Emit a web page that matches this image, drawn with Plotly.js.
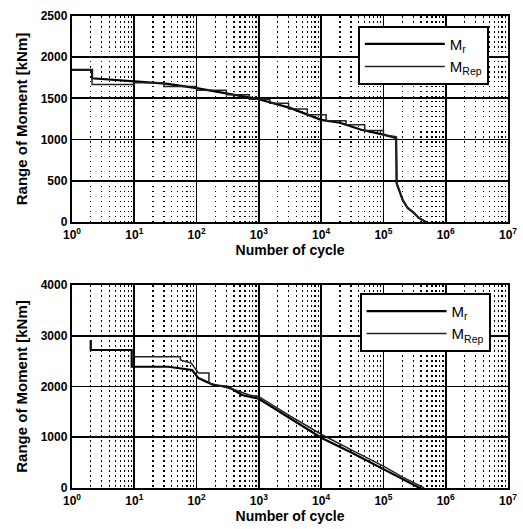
<!DOCTYPE html>
<html><head><meta charset="utf-8">
<script src="https://cdn.plot.ly/plotly-3.0.1.min.js"></script>
<style>html,body{margin:0;padding:0;background:#fff}</style>
</head><body><div id="chart" style="width:523px;height:529px"></div>
<script>
// ---- tick labels ----
const xTickVals = [1, 10, 100, 1000, 10000, 100000, 1000000, 10000000];
const xTickText = ['10<sup>0</sup>', '10<sup>1</sup>', '10<sup>2</sup>', '10<sup>3</sup>', '10<sup>4</sup>', '10<sup>5</sup>', '10<sup>6</sup>', '10<sup>7</sup>'];
const yTopTicks = [0, 500, 1000, 1500, 2000, 2500];
const yBotTicks = [0, 1000, 2000, 3000, 4000];
const seriesNames = ['M<sub>r</sub>', 'M<sub>Rep</sub>'];
const xTitle = 'Number of cycle';
const yTitle = 'Range of Moment [kNm]';

// ---- top panel ----
const topCyclesR = [1, 2.1, 2.1, 10, 32, 100, 316, 1000, 3162, 10000, 20000, 44000, 100000, 160000, 163000, 180000, 204000, 245000, 310000, 370000, 480000];
const topMomentR = [1845, 1845, 1744, 1705, 1680, 1625, 1560, 1490, 1385, 1240, 1205, 1120, 1060, 1020, 470, 388, 267, 170, 109, 49, 0];
const topCyclesRep = [1, 2.1, 2.1, 10, 10, 30, 30, 100, 100, 300, 300, 700, 700, 1500, 1500, 3000, 3000, 6000, 6000, 12000, 12000, 25000, 25000, 50000, 50000, 100000, 100000, 160000, 163000, 180000, 204000, 245000, 310000, 370000, 480000];
const topMomentRep = [1845, 1845, 1670, 1670, 1690, 1690, 1645, 1645, 1600, 1600, 1545, 1545, 1490, 1490, 1440, 1440, 1370, 1370, 1300, 1300, 1230, 1230, 1180, 1180, 1110, 1110, 1055, 1035, 470, 388, 267, 170, 109, 49, 0];

// ---- bottom panel ----
const botCyclesR = [2, 2, 9.1, 9.1, 35, 85, 107, 186, 324, 537, 1000, 3162, 10000, 31623, 100000, 200000, 355000, 400000];
const botMomentR = [2916, 2720, 2720, 2390, 2390, 2325, 2167, 2030, 1996, 1833, 1760, 1380, 990, 690, 380, 180, 20, 0];
const botCyclesRep = [9.1, 55, 55, 82, 107, 158, 158, 214, 335, 417, 700, 1000, 3162, 10000, 31623, 100000, 200000, 400000, 450000];
const botMomentRep = [2588, 2588, 2522, 2463, 2266, 2266, 2069, 2030, 1970, 1931, 1833, 1800, 1420, 1060, 740, 430, 220, 20, 0];

const FONT = 'Liberation Sans, Arial, sans-serif';

const minorVals = [];
for (let d = 0; d < 7; d++) for (let k = 2; k <= 9; k++) minorVals.push(k * Math.pow(10, d));

function xAxis(anchor) {
  return {
    type: 'log', range: [0, 7], anchor: anchor, automargin: false,
    tickmode: 'array', tickvals: xTickVals, ticktext: xTickText,
    tickfont: {family: FONT, size: 12, color: 'black', weight: 'bold'},
    showgrid: true, gridcolor: 'black', gridwidth: 1.8,
    showline: true, mirror: true, linecolor: 'black', linewidth: 2.2,
    ticks: '', zeroline: false,
    minor: {tickmode: 'array', tickvals: minorVals, showgrid: true, gridcolor: 'black', gridwidth: 1.3, griddash: '1.5px,3.5px', ticks: ''},
    title: {text: xTitle, font: {family: FONT, size: 14, color: 'black', weight: 'bold'}, standoff: 3}
  };
}
function yAxis(anchor, domain, ticks, top) {
  return {
    domain: domain, anchor: anchor, range: [0, top], automargin: false,
    tickmode: 'array', tickvals: ticks,
    tickfont: {family: FONT, size: 12, color: 'black', weight: 'bold'},
    showgrid: true, gridcolor: 'black', gridwidth: 1.8,
    showline: true, mirror: true, linecolor: 'black', linewidth: 2.2,
    ticks: '', zeroline: false,
    title: {text: yTitle, font: {family: FONT, size: 15, color: 'black', weight: 'bold'}, standoff: 10}
  };
}

const traces = [
  {x: topCyclesR, y: topMomentR, xaxis: 'x', yaxis: 'y', mode: 'lines', name: seriesNames[0], line: {color: 'black', width: 2.2}, legend: 'legend'},
  {x: topCyclesRep, y: topMomentRep, xaxis: 'x', yaxis: 'y', mode: 'lines', name: seriesNames[1], line: {color: '#222', width: 1.5}, legend: 'legend'},
  {x: botCyclesR, y: botMomentR, xaxis: 'x2', yaxis: 'y2', mode: 'lines', name: seriesNames[0], line: {color: 'black', width: 2.2}, legend: 'legend2'},
  {x: botCyclesRep, y: botMomentRep, xaxis: 'x2', yaxis: 'y2', mode: 'lines', name: seriesNames[1], line: {color: '#222', width: 1.5}, legend: 'legend2'}
];

function legendCfg(x, y) {
  return {x: x, y: y, xanchor: 'left', yanchor: 'top', bgcolor: 'white', bordercolor: 'black', borderwidth: 1.8,
    font: {family: FONT, size: 15, color: 'black'}, itemwidth: 80, tracegroupgap: 0};
}

const layout = {
  width: 523, height: 529,
  margin: {l: 72, r: 15, t: 16, b: 41},
  paper_bgcolor: 'white', plot_bgcolor: 'white',
  showlegend: true,
  xaxis: xAxis('y'),
  yaxis: yAxis('x', [0.5636, 1], yTopTicks, 2500),
  xaxis2: xAxis('y2'),
  yaxis2: yAxis('x2', [0, 0.430], yBotTicks, 4000),
  legend: legendCfg(0.656, 0.979),
  legend2: legendCfg(0.66, 0.413)
};

Plotly.newPlot('chart', traces, layout, {staticPlot: true, displayModeBar: false});
</script>
</body></html>
